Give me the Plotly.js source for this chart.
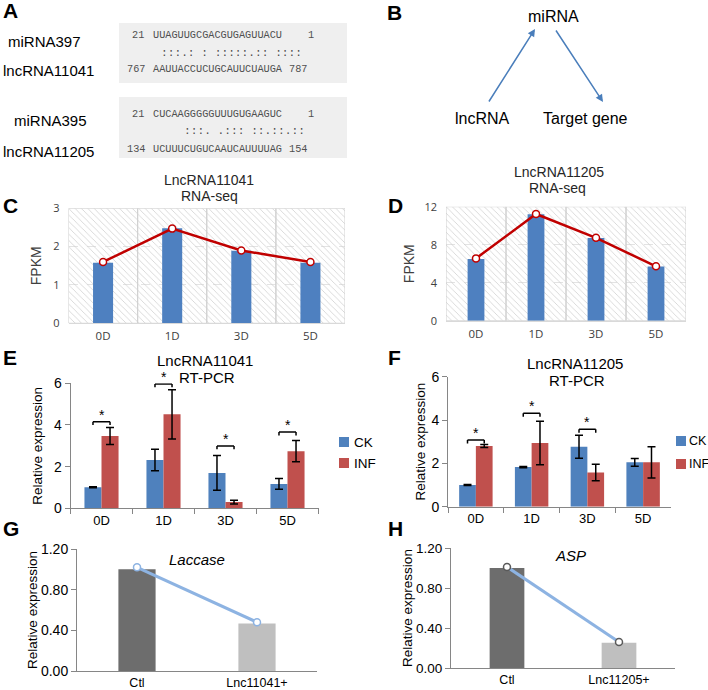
<!DOCTYPE html>
<html>
<head>
<meta charset="utf-8">
<script src="https://cdn.plot.ly/plotly-3.0.1.min.js"></script>
<style>html,body{margin:0;padding:0;background:#fff;}#chart{width:708px;height:690px;}</style>
</head>
<body>
<div id="chart"></div>
<script>
// ---------- DATA ----------
const days = ['0D', '1D', '3D', '5D'];
// C: LncRNA11041 RNA-seq
const fpkm11041 = [1.58, 2.48, 1.89, 1.58];
const trend11041 = [1.60, 2.47, 1.90, 1.60];
// D: LncRNA11205 RNA-seq
const fpkm11205 = [6.5, 11.2, 8.7, 5.7];
const trend11205 = [6.56, 11.23, 8.72, 5.72];
// E: LncRNA11041 RT-PCR
const ck11041 = [1.01, 2.32, 1.70, 1.17];
const ck11041Err = [0.02, 0.52, 0.83, 0.26];
const inf11041 = [3.47, 4.51, 0.30, 2.74];
const inf11041Err = [0.41, 1.18, 0.09, 0.51];
const sig11041 = [4.16, 5.97, 2.99, 3.66];
// F: LncRNA11205 RT-PCR
const ck11205 = [1.00, 1.83, 2.77, 2.05];
const ck11205Err = [0.02, 0.03, 0.53, 0.18];
const inf11205 = [2.80, 2.94, 1.58, 2.05];
const inf11205Err = [0.07, 1.00, 0.38, 0.72];
const sig11205 = [3.08, 4.31, 3.57, null];
// G / H
const groupsG = ['Ctl', 'Lnc11041+'];
const laccase = [1.00, 0.466];
const laccaseTrend = [1.02, 0.48];
const groupsH = ['Ctl', 'Lnc11205+'];
const asp = [1.00, 0.253];
const aspTrend = [1.01, 0.26];
// A: alignments
const miNames = ['miRNA397', 'miRNA395'];
const lncNames = ['lncRNA11041', 'lncRNA11205'];
const miStart = ['21', '21'];
const miSeq = ['UUAGUUGCGACGUGAGUUACU', 'CUCAAGGGGGUUUGUGAAGUC'];
const miEnd = ['1', '1'];
const matchLine = [':::.: : :::::.:: ::::', ':::. .::: ::.::.::'];
const lncStart = ['767', '134'];
const lncSeq = ['AAUUACCUCUGCAUUCUAUGA', 'UCUUUCUGUCAAUCAUUUUAG'];
const lncEnd = ['787', '154'];
// B: diagram labels
const diagram = ['miRNA', 'lncRNA', 'Target gene'];
const seriesNames = ['CK', 'INF'];

// ---------- HELPERS ----------
const W = 708, H = 690;
const px = x => x / W;
const py = y => 1 - y / H;
const nb = s => s.replace(/ /g, '\u00A0');
const SANS = 'Liberation Sans, Arial, sans-serif';
const MONO = 'Liberation Mono, DejaVu Sans Mono, monospace';
const BLUE = '#4f81bd', RED = '#c0504d';

const annotations = [];
const shapes = [];
function txt(text, x, y, opts) {
  opts = opts || {};
  annotations.push(Object.assign({
    text: text, x: px(x), y: py(y), xref: 'paper', yref: 'paper',
    xanchor: opts.xanchor || 'center', yanchor: 'middle', showarrow: false,
    font: Object.assign({family: SANS, size: 14, color: '#000'}, opts.font || {})
  }, opts.extra || {}));
}

// Panel letters
[['A', 1, 11], ['B', 385, 12], ['C', 1, 205], ['D', 386, 205], ['E', 1, 357], ['F', 386, 357], ['G', 1, 528], ['H', 386, 528]]
  .forEach(([l, x, y]) => txt(l, x, y, {xanchor: 'left', font: {size: 21, weight: 'bold'}}));

// Panel A
const boxY = [[23, 83], [97, 158]];
const rowY = [[35, 53, 69], [114, 131, 149]];
const matchX = [159, 182];
[0, 1].forEach(i => {
  shapes.push({type: 'rect', xref: 'paper', yref: 'paper', x0: px(119), x1: px(347), y0: py(boxY[i][1]), y1: py(boxY[i][0]),
    fillcolor: '#efefef', line: {width: 0}, layer: 'below'});
  const [y1, y2, y3] = rowY[i];
  txt(miNames[i], 44 + (i ? 6 : 0), (y1 + y2) / 2 - 2, {font: {size: 15}});
  txt(lncNames[i], 48, y3 + (i ? 2 : 1), {font: {size: 15}});
  const f = {family: MONO, size: 10.24, color: '#505050'};
  txt(miStart[i], 146, y1, {xanchor: 'right', font: f});
  txt(miSeq[i], 151, y1, {xanchor: 'left', font: f});
  txt(miEnd[i], 306, y1, {xanchor: 'left', font: f});
  txt(nb(matchLine[i]), matchX[i], y2, {xanchor: 'left', font: {family: MONO, size: 11.2, color: '#505050'}});
  txt(lncStart[i], 147, y3, {xanchor: 'right', font: f});
  txt(lncSeq[i], 151, y3, {xanchor: 'left', font: f});
  txt(lncEnd[i], 287, y3, {xanchor: 'left', font: f});
});

// Panel B
txt(diagram[0], 553, 16, {font: {size: 16}});
txt(diagram[1], 483, 118, {font: {size: 16}});
txt(diagram[2], 585, 118, {font: {size: 16}});
[[488, 103, 535, 29], [555, 29, 603, 102]].forEach(([x0, y0, x1, y1]) => {
  annotations.push({x: px(x1), y: py(y1), ax: px(x0), ay: py(y0), xref: 'paper', yref: 'paper', axref: 'paper', ayref: 'paper',
    text: '', showarrow: true, arrowhead: 2, arrowsize: 1, arrowwidth: 1.5, arrowcolor: '#4a7ebb'});
});

// Subplot titles
const tfont = {size: 14, color: '#262626'};
txt('LncRNA11041', 209, 180, {font: tfont});
txt('RNA-seq', 209, 196, {font: tfont});
txt('LncRNA11205', 559, 172, {font: tfont});
txt('RNA-seq', 557, 188, {font: tfont});
txt('LncRNA11041', 205, 360, {font: {size: 15}});
txt('RT-PCR', 207, 377, {font: {size: 15}});
txt('LncRNA11205', 575, 363, {font: {size: 15}});
txt('RT-PCR', 577, 380, {font: {size: 15}});
txt('Laccase', 197, 559, {font: {size: 15, style: 'italic'}});
txt('ASP', 570, 555, {font: {size: 15, style: 'italic'}});

// Manual legends for E and F
[[339, 352, [437, 458], 13.5], [676, 687, [436, 459], 12.5]].forEach(([sx, tx, ys, fs]) => {
  [BLUE, RED].forEach((c, k) => {
    shapes.push({type: 'rect', xref: 'paper', yref: 'paper', x0: px(sx), x1: px(sx + 10), y0: py(ys[k] + 10), y1: py(ys[k]),
      fillcolor: c, line: {width: 0}});
    txt(seriesNames[k], tx, ys[k] + 5, {xanchor: 'left', font: {size: fs}});
  });
});

// Significance brackets
function brackets(sig, xr, yr, half, leg) {
  sig.forEach((s, i) => {
    if (s == null) return;
    const a = i - half, b = i + half;
    [[a, s - leg, a, s], [a, s, b, s], [b, s, b, s - leg]].forEach(([x0, y0, x1, y1]) =>
      shapes.push({type: 'line', xref: xr, yref: yr, x0, y0, x1, y1, line: {color: '#000', width: 1.5}}));
    annotations.push({text: '*', x: i, y: s, xref: xr, yref: yr, yanchor: 'bottom', yshift: -3, showarrow: false,
      font: {family: SANS, size: 14, color: '#000'}});
  });
}
brackets(sig11041, 'x3', 'y3', 0.1375, 0.16);
brackets(sig11205, 'x4', 'y4', 0.15, 0.16);

// ---------- TRACES ----------
function hatch(xa, ya, top) {
  return {type: 'bar', x: days, y: days.map(() => top), xaxis: xa, yaxis: ya, width: 1, hoverinfo: 'skip',
    marker: {color: 'rgba(0,0,0,0)', line: {color: '#d0d0d0', width: 1},
      pattern: {shape: '\\', fgcolor: '#cccccc', bgcolor: 'rgba(255,255,255,0)', size: 4.5, solidity: 0.16}}};
}
function seqBar(xa, ya, vals, w) {
  return {type: 'bar', x: days, y: vals, xaxis: xa, yaxis: ya, width: w, marker: {color: '#4e80c0'}};
}
function trend(xa, ya, x, vals, color, w, mline, msize) {
  return {type: 'scatter', mode: 'lines+markers', x: x, y: vals, xaxis: xa, yaxis: ya,
    line: {color: color, width: w}, marker: {symbol: 'circle', size: msize, color: '#fff', line: {color: mline, width: 1.5}}};
}
function grp(xa, ya, vals, errs, color, off, w) {
  return {type: 'bar', x: days, y: vals, xaxis: xa, yaxis: ya, offset: off, width: w, marker: {color: color},
    error_y: {type: 'data', array: errs, visible: true, color: '#000', thickness: 1.5, width: 4}};
}

const data = [
  hatch('x', 'y', 3), seqBar('x', 'y', fpkm11041, 0.29), trend('x', 'y', days, trend11041, '#c00000', 2.5, '#c00000', 7),
  hatch('x2', 'y2', 12), seqBar('x2', 'y2', fpkm11205, 0.28), trend('x2', 'y2', days, trend11205, '#c00000', 2.5, '#c00000', 7),
  grp('x3', 'y3', ck11041, ck11041Err, BLUE, -0.275, 0.275), grp('x3', 'y3', inf11041, inf11041Err, RED, 0, 0.275),
  grp('x4', 'y4', ck11205, ck11205Err, BLUE, -0.3, 0.3), grp('x4', 'y4', inf11205, inf11205Err, RED, 0, 0.3),
  {type: 'bar', x: groupsG, y: laccase, xaxis: 'x5', yaxis: 'y5', width: 0.31, marker: {color: ['#6d6d6d', '#bfbfbf']}},
  trend('x5', 'y5', groupsG, laccaseTrend, '#8db3e2', 3, '#8db3e2', 7),
  {type: 'bar', x: groupsH, y: asp, xaxis: 'x6', yaxis: 'y6', width: 0.31, marker: {color: ['#6d6d6d', '#bfbfbf']}},
  trend('x6', 'y6', groupsH, aspTrend, '#8db3e2', 3, '#595959', 7)
];

// ---------- AXES ----------
const seqX = (d, anchor) => ({domain: d, anchor: anchor, type: 'category', range: [-0.5, 3.5], showgrid: false,
  showline: true, linecolor: '#d9d9d9', ticks: '', zeroline: false, ticklabelstandoff: 2,
  tickfont: {family: 'Open Sans, sans-serif', size: 11.5, color: '#404040'}});
const seqY = (d, anchor, r, dt, so) => ({domain: d, anchor: anchor, range: r, dtick: dt, showgrid: true, gridcolor: '#e3e3e3',
  griddash: 'dash', zeroline: false, showline: false, ticks: '', ticklabelstandoff: 8,
  tickfont: {family: 'Open Sans, sans-serif', size: 11, color: '#404040'},
  title: {text: 'FPKM', font: {family: SANS, size: 14, color: '#404040'}, standoff: so}});
const pcrX = (d, anchor, n) => ({domain: d, anchor: anchor, type: 'category', range: [-0.5, n - 0.5], showgrid: false,
  showline: true, linecolor: '#868686', ticks: 'outside', tickson: 'boundaries', ticklen: 5, tickcolor: '#868686',
  zeroline: false, tickfont: {size: 13, color: '#000'}});
const pcrY = (d, anchor, r, dt, fmt, fs, so) => ({domain: d, anchor: anchor, range: r, dtick: dt, tickformat: fmt,
  showgrid: false, zeroline: false, showline: true, linecolor: '#868686', ticks: 'outside', ticklen: 5, tickcolor: '#868686',
  tickfont: {size: fs, color: '#000'},
  title: {text: 'Relative expression', font: {size: 13.5, color: '#000'}, standoff: so}});

const layout = {
  width: W, height: H, margin: {l: 0, r: 0, t: 0, b: 0}, paper_bgcolor: '#fff', plot_bgcolor: 'rgba(0,0,0,0)',
  barmode: 'overlay', showlegend: false, hovermode: false,
  font: {family: SANS, color: '#000'},
  xaxis: seqX([px(68.5), px(345)], 'y'),
  yaxis: seqY([py(323.3), py(208.3)], 'x', [0, 3], 1, 8),
  xaxis2: seqX([px(446), px(686)], 'y2'),
  yaxis2: seqY([py(320.7), py(206.7)], 'x2', [0, 12], 4, 6),
  xaxis3: pcrX([px(70.5), px(318.5)], 'y3', 4),
  yaxis3: pcrY([py(508.3), py(383.3)], 'x3', [0, 6], 2, '', 14, 8),
  xaxis4: pcrX([px(448), px(671)], 'y4', 4),
  yaxis4: pcrY([py(506.7), py(376.7)], 'x4', [0, 6], 2, '', 14, 2),
  xaxis5: Object.assign(pcrX([px(77), px(317)], 'y5', 2), {ticks: '', tickfont: {size: 12.5, color: '#000'}}),
  yaxis5: pcrY([py(671), py(549)], 'x5', [0, 1.2], 0.4, '.2f', 14, 0),
  xaxis6: Object.assign(pcrX([px(451), px(675)], 'y6', 2), {ticks: '', tickfont: {size: 12.5, color: '#000'}}),
  yaxis6: pcrY([py(668), py(548)], 'x6', [0, 1.2], 0.4, '.2f', 13.5, 0),
  annotations: annotations,
  shapes: shapes
};

Plotly.newPlot('chart', data, layout, {staticPlot: true, displayModeBar: false});
</script>
</body>
</html>
